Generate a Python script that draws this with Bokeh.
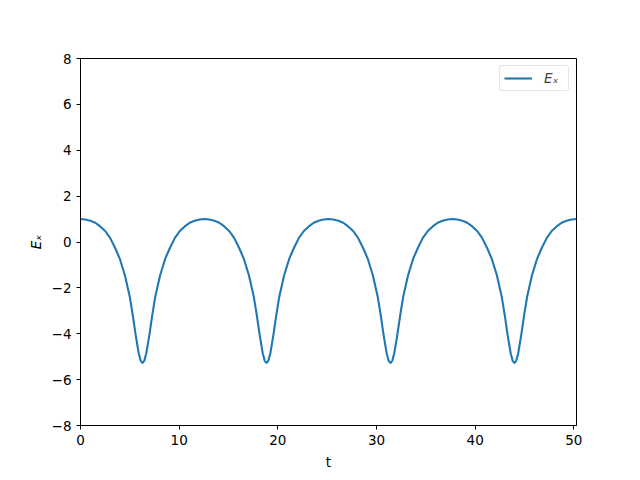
from bokeh.plotting import figure
from bokeh.models import Range1d, FixedTicker, Legend, LegendItem
from bokeh.embed import file_html
from bokeh.resources import INLINE

t = [0.00, 0.50, 1.00, 1.50, 2.00, 2.50, 3.00, 3.50, 4.00, 4.50, 5.00, 5.30, 5.60, 5.90, 6.10,
     6.28, 6.47, 6.67, 6.97, 7.27, 7.57, 8.07, 8.57, 9.07, 9.57, 10.07, 10.57, 11.07, 11.57, 12.07,
     12.57, 13.07, 13.57, 14.07, 14.57, 15.07, 15.57, 16.07, 16.57, 17.07, 17.57, 17.87, 18.17, 18.47, 18.67,
     18.85, 19.04, 19.24, 19.54, 19.84, 20.14, 20.64, 21.14, 21.64, 22.14, 22.64, 23.14, 23.64, 24.14, 24.64,
     25.13, 25.63, 26.13, 26.63, 27.13, 27.63, 28.13, 28.63, 29.13, 29.63, 30.13, 30.43, 30.73, 31.03, 31.23,
     31.42, 31.60, 31.80, 32.10, 32.40, 32.70, 33.20, 33.70, 34.20, 34.70, 35.20, 35.70, 36.20, 36.70, 37.20,
     37.70, 38.20, 38.70, 39.20, 39.70, 40.20, 40.70, 41.20, 41.70, 42.20, 42.70, 43.00, 43.30, 43.60, 43.80,
     43.98, 44.16, 44.36, 44.66, 44.96, 45.26, 45.76, 46.26, 46.76, 47.26, 47.76, 48.26, 48.76, 49.26, 49.77,
     50.27]

Ex = [1.00, 0.98, 0.93, 0.84, 0.68, 0.48, 0.18, -0.25, -0.75, -1.45, -2.40, -3.20, -4.08, -4.85, -5.18,
      -5.27, -5.18, -4.85, -4.08, -3.20, -2.40, -1.45, -0.75, -0.25, 0.18, 0.48, 0.68, 0.84, 0.93, 0.98,
      1.00, 0.98, 0.93, 0.84, 0.68, 0.48, 0.18, -0.25, -0.75, -1.45, -2.40, -3.20, -4.08, -4.85, -5.18,
      -5.27, -5.18, -4.85, -4.08, -3.20, -2.40, -1.45, -0.75, -0.25, 0.18, 0.48, 0.68, 0.84, 0.93, 0.98,
      1.00, 0.98, 0.93, 0.84, 0.68, 0.48, 0.18, -0.25, -0.75, -1.45, -2.40, -3.20, -4.08, -4.85, -5.18,
      -5.27, -5.18, -4.85, -4.08, -3.20, -2.40, -1.45, -0.75, -0.25, 0.18, 0.48, 0.68, 0.84, 0.93, 0.98,
      1.00, 0.98, 0.93, 0.84, 0.68, 0.48, 0.18, -0.25, -0.75, -1.45, -2.40, -3.20, -4.08, -4.85, -5.18,
      -5.27, -5.18, -4.85, -4.08, -3.20, -2.40, -1.45, -0.75, -0.25, 0.18, 0.48, 0.68, 0.84, 0.93, 0.98,
      1.00]

x_ticks = [0, 10, 20, 30, 40, 50]
y_ticks = [-8, -6, -4, -2, 0, 2, 4, 6, 8]
x_limits = (0, 50.27)
y_limits = (-8, 8)

FONT = "DejaVu Sans"
TICK_SIZE = "13.5px"

p = figure(width=632, height=472, output_backend="svg", toolbar_location=None,
           x_range=Range1d(*x_limits), y_range=Range1d(*y_limits),
           min_border_left=80, min_border_right=56, min_border_top=58, min_border_bottom=45)

p.background_fill_color = "white"
p.border_fill_color = "white"
p.outline_line_color = "black"
p.outline_line_alpha = 1.0
p.outline_line_width = 1
p.xgrid.visible = False
p.ygrid.visible = False

r = p.line(t, Ex, line_color="#1f77b4", line_width=2.1, line_join="round")

for ax in (p.xaxis[0], p.yaxis[0]):
    ax.major_tick_in = 0
    ax.major_tick_out = 4
    ax.minor_tick_in = 0
    ax.minor_tick_out = 0
    ax.axis_line_color = "black"
    ax.major_tick_line_color = "black"
    ax.major_label_text_font = FONT
    ax.major_label_text_font_size = TICK_SIZE
    ax.major_label_text_color = "black"
    ax.axis_label_text_font = FONT
    ax.axis_label_text_font_size = TICK_SIZE
    ax.axis_label_text_color = "black"
    ax.axis_label_text_font_style = "normal"

p.xaxis[0].ticker = FixedTicker(ticks=x_ticks)
p.yaxis[0].ticker = FixedTicker(ticks=y_ticks)
p.xaxis[0].major_label_overrides = {v: str(v) for v in x_ticks}
p.yaxis[0].major_label_overrides = {v: (str(v).replace("-", "\u2212")) for v in y_ticks}
p.xaxis[0].axis_label = "t"
p.yaxis[0].axis_label = "E\u2093"
p.yaxis[0].axis_label_text_font_style = "italic"
p.xaxis[0].axis_label_standoff = 6
p.yaxis[0].axis_label_standoff = 5

legend = Legend(items=[LegendItem(label="E\u2093", renderers=[r])], location="top_right")
legend.label_text_font = FONT
legend.label_text_font_size = TICK_SIZE
legend.label_text_font_style = "italic"
legend.border_line_color = "#cccccc"
legend.border_line_width = 1
legend.border_radius = 3
legend.background_fill_alpha = 0.8
legend.glyph_width = 28
legend.glyph_height = 14
legend.padding = 4
legend.margin = 7
legend.spacing = 0
legend.label_standoff = 12
p.add_layout(legend)

open("out.html", "w").write(file_html(p, INLINE))
